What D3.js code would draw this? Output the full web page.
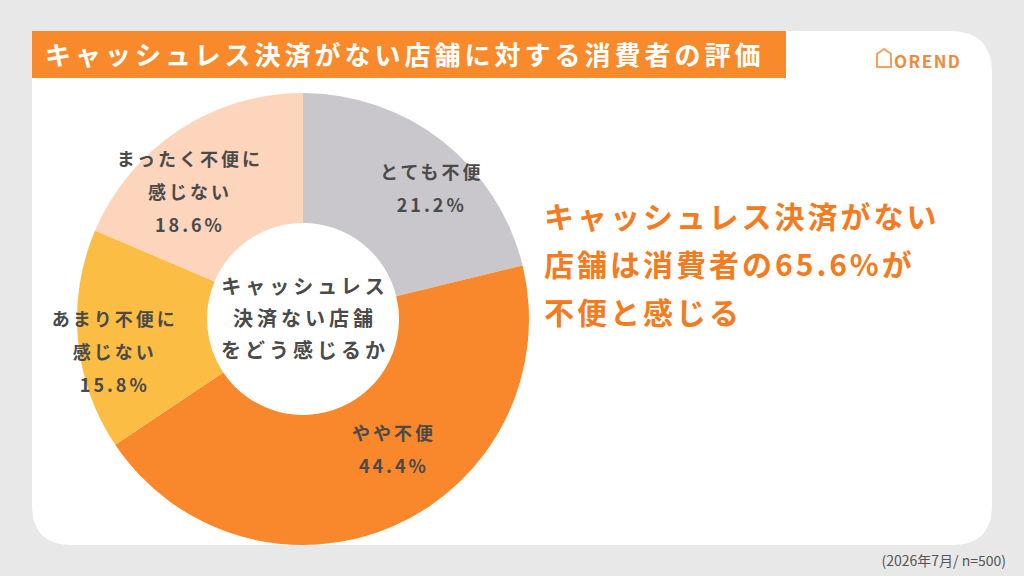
<!DOCTYPE html>
<html><head><meta charset="utf-8">
<script src="https://cdn.jsdelivr.net/npm/d3@7"></script>
<style>body{margin:0;background:#e8e8e8;}svg{display:block;font-family:"Noto Sans CJK JP","Noto Sans",sans-serif;}</style>
</head><body>
<svg id="c" width="1024" height="576"></svg>
<script>
// chart data
var categories = ["とても不便", "やや不便", "あまり不便に\n感じない", "まったく不便に\n感じない"];
var shares = [21.2, 44.4, 15.8, 18.6];
var colors = ["#c9c6cc", "#f9872b", "#fcbd45", "#fdd4bc"];
var titleText = "キャッシュレス決済がない店舗に対する消費者の評価";
var noteLines = ["キャッシュレス決済がない", "店舗は消費者の65.6%が", "不便と感じる"];

var svg = d3.select("#c");

svg.append("path")
	.attr("d", "M32,31 H950 Q992,31 992,73 V505 Q992,545 952,545 H72 Q32,545 32,505 Z")
	.attr("fill", "#fff");

var cx = 303, cy = 319, rOut = 226, rIn = 96;
var pie = d3.pie().sort(null).value(function(d){ return d; });
var arc = d3.arc().innerRadius(rIn).outerRadius(rOut);
var labelArc = d3.arc().innerRadius(176).outerRadius(176);
var g = svg.append("g").attr("transform", "translate(" + cx + "," + cy + ")");
var arcs = pie(shares);

g.selectAll("path.slice").data(arcs).enter().append("path")
	.attr("class", "slice").attr("d", arc)
	.attr("fill", function(d, i){ return colors[i]; });

// small nudges of the label blocks away from the centroid
var labelPos = [[20, 9], [20, -30], [-13, 17], [-16, 21]];
arcs.forEach(function(d, i){
	var p = labelArc.centroid(d);
	var lines = categories[i].split("\n").concat([shares[i].toFixed(1) + "%"]);
	var t = g.append("text").attr("text-anchor", "middle")
		.attr("fill", "#4a4a4a").attr("font-size", 18).attr("font-weight", 700)
		.attr("letter-spacing", 3);
	var y0 = p[1] + labelPos[i][1] - (lines.length - 1) * 16.5;
	lines.forEach(function(s, k){
		t.append("tspan").attr("x", p[0] + labelPos[i][0]).attr("y", y0 + k * 33 + 6).text(s);
	});
});

var ct = g.append("text").attr("text-anchor", "middle").attr("fill", "#4a4a4a")
	.attr("font-size", 20).attr("font-weight", 700).attr("letter-spacing", 4);
["キャッシュレス", "決済ない店舗", "をどう感じるか"].forEach(function(s, k){
	ct.append("tspan").attr("x", 2).attr("y", -32 + k * 32 + 7).text(s);
});

// title
svg.append("rect").attr("x", 32).attr("y", 31).attr("width", 754).attr("height", 47).attr("fill", "#f98a2c");
svg.append("text").attr("x", 45).attr("y", 65).attr("fill", "#fff")
	.attr("font-size", 26).attr("font-weight", 700).attr("letter-spacing", 4).text(titleText);

// logo
var logo = svg.append("g").attr("transform", "translate(875,50)");
logo.append("path").attr("d", "M2,4 L9,-1 L16,4 V17 H2 Z").attr("fill", "none")
	.attr("stroke", "#f5a35a").attr("stroke-width", 2);
svg.append("text").attr("x", 894).attr("y", 68).attr("fill", "#f08a3a")
	.attr("font-size", 17).attr("font-weight", 600).attr("letter-spacing", 1.5).text("OREND");

// note
noteLines.forEach(function(s, k){
	svg.append("text").attr("x", 544).attr("y", 228 + k * 48).attr("fill", "#f47b20")
		.attr("font-size", 30).attr("font-weight", 700).attr("letter-spacing", 3).text(s);
});

svg.append("text").attr("x", 1006).attr("y", 566).attr("text-anchor", "end")
	.attr("fill", "#555").attr("font-size", 14).text("(2026年7月/ n=500)");
</script>
</body></html>
